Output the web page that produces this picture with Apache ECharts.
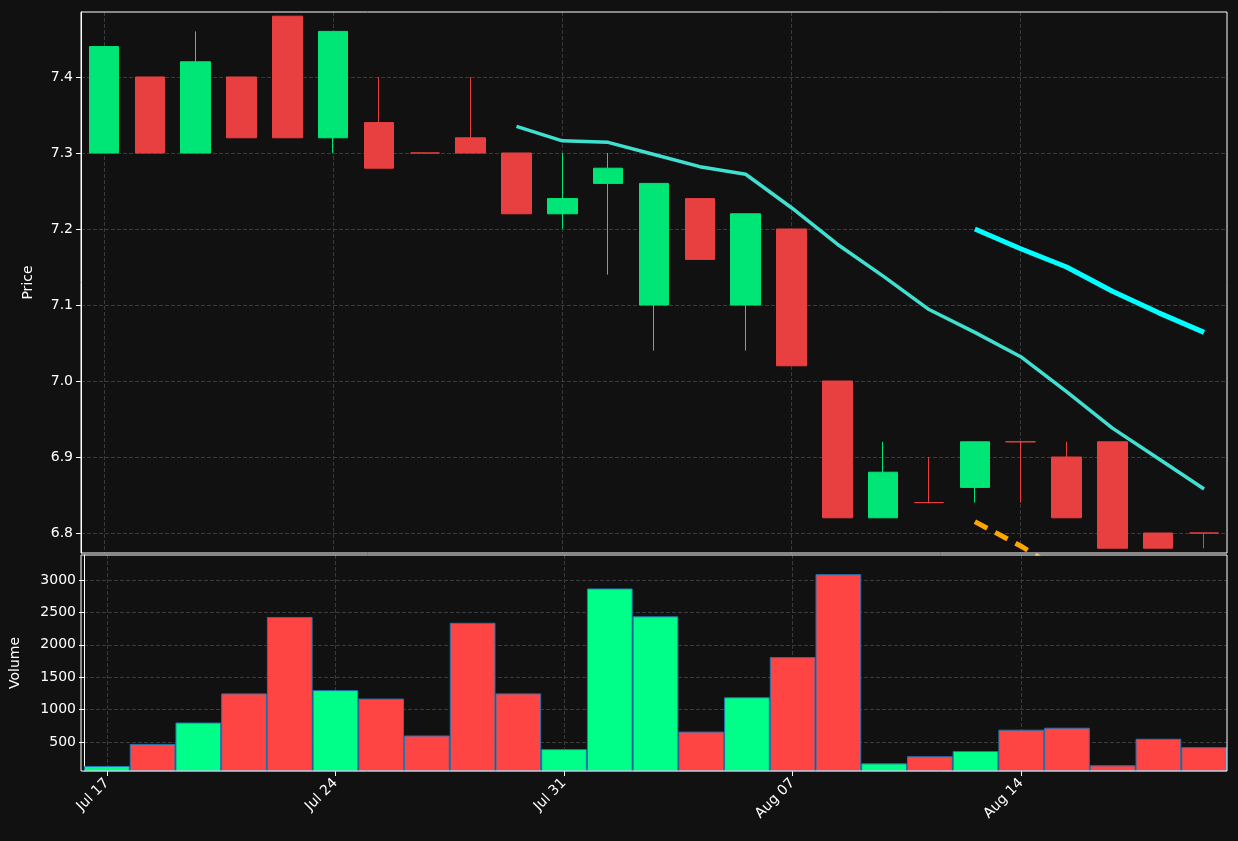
<!DOCTYPE html>
<html><head><meta charset="utf-8">
<script src="https://cdn.jsdelivr.net/npm/echarts@6/dist/echarts.min.js"></script>
<style>html,body{margin:0;background:#111111}#c{width:1238px;height:841px}</style>
</head><body><div id="c"></div>
<script>
const dates=['Jul 17','Jul 18','Jul 19','Jul 20','Jul 21','Jul 24','Jul 25','Jul 26','Jul 27','Jul 28','Jul 31','Aug 01','Aug 02','Aug 03','Aug 04','Aug 07','Aug 08','Aug 09','Aug 10','Aug 11','Aug 14','Aug 15','Aug 16','Aug 17','Aug 18'];
const opens =[7.30,7.40,7.30,7.40,7.48,7.32,7.34,7.30,7.32,7.30,7.22,7.26,7.10,7.24,7.10,7.20,7.00,6.82,6.84,6.86,6.92,6.90,6.92,6.80,6.80];
const closes=[7.44,7.30,7.42,7.32,7.32,7.46,7.28,7.30,7.30,7.22,7.24,7.28,7.26,7.16,7.22,7.02,6.82,6.88,6.84,6.92,6.92,6.82,6.78,6.78,6.80];
const highs =[7.44,7.40,7.46,7.40,7.48,7.46,7.40,7.30,7.40,7.30,7.30,7.30,7.26,7.24,7.22,7.20,7.00,6.92,6.90,6.92,6.92,6.92,6.92,6.80,6.80];
const lows  =[7.30,7.30,7.30,7.32,7.32,7.30,7.28,7.30,7.30,7.22,7.20,7.14,7.04,7.16,7.04,7.02,6.82,6.82,6.84,6.84,6.84,6.82,6.78,6.78,6.78];
const volumes=[130,470,800,1250,2430,1300,1170,600,2340,1250,390,2870,2440,660,1190,1810,3090,170,280,360,690,720,140,550,420];
const maLine=[null,null,null,null,null,null,null,null,null,7.335,7.316,7.314,7.298,7.282,7.272,7.228,7.18,7.138,7.094,7.064,7.032,6.986,6.938,6.898,6.858];
const trendLine=[null,null,null,null,null,null,null,null,null,null,null,null,null,null,null,null,null,null,null,7.20,7.174,7.15,7.118,7.09,7.064];
const lowerLine=[null,null,null,null,null,null,null,null,null,null,null,null,null,null,null,null,null,null,null,6.815,6.783,6.745,6.71,6.675,6.64];
const priceTicks=[6.8,6.9,7.0,7.1,7.2,7.3,7.4];
const volumeTicks=[500,1000,1500,2000,2500,3000];
const dateTickIdx=[0,5,10,15,20];
const GREEN='#00e676',RED='#e84040';
const up=i=>closes[i]>opens[i];
const candle=dates.map((d,i)=>({value:[opens[i],closes[i],lows[i],highs[i]],itemStyle:{color:up(i)?GREEN:RED,color0:up(i)?GREEN:RED,borderColor:up(i)?GREEN:RED,borderColor0:up(i)?GREEN:RED}}));
const vols=volumes.map((v,i)=>({value:v,itemStyle:{color:up(i)?'#00ff88':'#ff4444'}}));
const txt='#ffffff',F='DejaVu Sans';
const gridLine={lineStyle:{color:'#3a3a3a',type:'dashed'}};
const chart=echarts.init(document.getElementById('c'));
chart.setOption({
 backgroundColor:'#111111',animation:false,
 grid:[{left:81,right:11,top:12,height:541},{left:81,right:11,top:555,height:216}],
 xAxis:[
  {type:'category',data:dates,gridIndex:0,show:false},
  {type:'category',data:dates,gridIndex:1,show:false},
  {type:'value',gridIndex:0,position:'bottom',min:-0.5,max:24.5,axisLine:{show:false,onZero:false},axisLabel:{show:false},axisTick:{show:false,customValues:dateTickIdx},splitLine:Object.assign({show:true},gridLine)},
  {type:'value',gridIndex:1,position:'bottom',min:-0.5,max:24.5,axisLine:{show:false,onZero:false},
   axisTick:{show:true,customValues:dateTickIdx,lineStyle:{color:'#ffffff'}},
   axisLabel:{customValues:dateTickIdx,formatter:v=>dates[Math.round(v)],rotate:45,color:txt,fontSize:14,fontFamily:F,margin:10},
   splitLine:Object.assign({show:true},gridLine)}
 ],
 yAxis:[
  {gridIndex:0,position:'left',min:6.7737,max:7.4855,name:'Price',nameLocation:'middle',nameGap:46,nameTextStyle:{color:txt,fontSize:14,fontFamily:F},
   axisLabel:{customValues:priceTicks,color:txt,fontSize:14,fontFamily:F,formatter:v=>v.toFixed(1)},
   axisLine:{show:true,onZero:false,lineStyle:{color:'#ffffff'}},axisTick:{show:true,customValues:priceTicks,lineStyle:{color:'#ffffff'}},
   splitLine:gridLine},
  {gridIndex:1,position:'left',min:52,max:3386,name:'Volume',nameLocation:'middle',nameGap:62,nameTextStyle:{color:txt,fontSize:14,fontFamily:F},
   axisLabel:{customValues:volumeTicks,color:txt,fontSize:14,fontFamily:F,formatter:v=>String(v)},
   axisLine:{show:true,onZero:false,lineStyle:{color:'#ffffff'}},axisTick:{show:true,customValues:volumeTicks,lineStyle:{color:'#ffffff'}},
   splitLine:gridLine}
 ],
 series:[
  {type:'candlestick',xAxisIndex:0,yAxisIndex:0,data:candle,barWidth:30,clip:true},
  {type:'line',xAxisIndex:0,yAxisIndex:0,data:maLine,showSymbol:false,lineStyle:{color:'#40e0d0',width:3.5},clip:true},
  {type:'line',xAxisIndex:0,yAxisIndex:0,data:trendLine,showSymbol:false,lineStyle:{color:'#00ffff',width:5},clip:true},
  {type:'line',xAxisIndex:0,yAxisIndex:0,data:lowerLine,showSymbol:false,lineStyle:{color:'#ffa500',width:5,type:[14,9]},clip:true},
  {type:'bar',xAxisIndex:1,yAxisIndex:1,data:vols,barWidth:'100%',itemStyle:{borderColor:'#1f77b4',borderWidth:1}}
 ],
 graphic:[
  {type:'rect',shape:{x:81,y:12,width:1146,height:541},style:{fill:'none',stroke:'#ffffff',lineWidth:1},z:100},
  {type:'rect',shape:{x:81,y:555,width:1146,height:216},style:{fill:'none',stroke:'#ffffff',lineWidth:1},z:100}
 ]
});
</script></body></html>
